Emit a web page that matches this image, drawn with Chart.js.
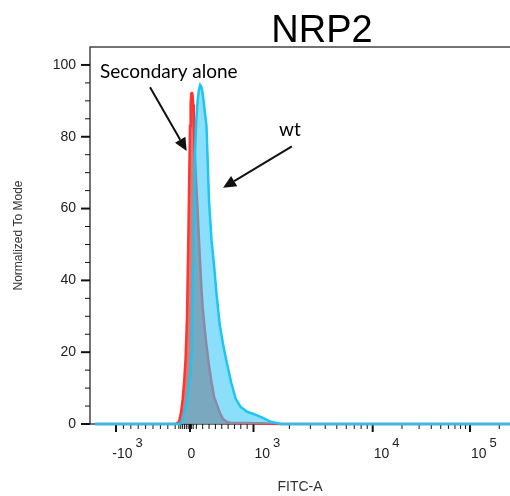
<!DOCTYPE html>
<html>
<head>
<meta charset="utf-8">
<script src="https://cdn.jsdelivr.net/npm/chart.js@4.4.1/dist/chart.umd.min.js"></script>
<style>
  html, body { margin: 0; padding: 0; background: #fff; }
  #wrap { width: 510px; height: 496px; }
</style>
</head>
<body>
<div id="wrap"><canvas id="histo"></canvas></div>
<script>
// FITC-A bins (raw values) shared by both histograms
var binValues = [-1500, -1000, -500, -250, -200, -150, -120, -100, -80, -60, -40, -20, 0, 10, 20, 30, 40, 50, 60, 80, 100, 120, 140, 160, 180, 200, 230, 260, 300, 340, 380, 420, 470, 520, 580, 650, 720, 800, 900, 1000, 1200, 1400, 1700, 2000, 3000, 5000, 10000, 100000, 300000];

// Normalized To Mode
var secondaryAlone = [0, 0, 0, 0, 0, 0.5, 3.4, 6.7, 11.5, 18, 30, 55, 83, 89, 92, 92.5, 91.6, 89, 83, 73.5, 66, 59.5, 51.7, 44.7, 37.7, 32.4, 26.8, 21.8, 16.2, 11.5, 7.5, 5.6, 3.1, 1.4, 0.6, 0.3, 0.3, 0.3, 0.3, 0.2, 0.2, 0.1, 0, 0, 0, 0, 0, 0, 0];
var wtValues = [0, 0, 0, 0, 0, 0, 0.2, 1.1, 2.5, 4.5, 6.7, 9.8, 13.4, 15.6, 19, 24.6, 33, 44, 55, 76, 85, 90, 93, 94.4, 93.9, 92, 87.4, 83, 62, 51, 44, 35.8, 27.4, 22.3, 17, 11.5, 7, 4.7, 3.4, 2.8, 1.7, 0.6, 0, 0, 0, 0, 0, 0, 0];

// axis ticks
var xMajorTicks = [-1000, 0, 1000, 10000, 100000];
var xMajorLabels = [["-10", "3"], ["0", ""], ["10", "3"], ["10", "4"], ["10", "5"]];
var xMinorTicks = [-900, -800, -700, -600, -500, -400, -300, -200, -150, -125, -100, -75, -50, -25, 25, 50, 100, 200, 300, 400, 500, 600, 700, 800, 900,
  2000, 3000, 4000, 5000, 6000, 7000, 8000, 9000, 20000, 30000, 40000, 50000, 60000, 70000, 80000, 90000, 200000];
var yMajorTicks = [0, 20, 40, 60, 80, 100];

// annotation anchors in data units [x raw value, y]
var labelSecondary = [-1360, 98];
var arrowSecondary = [[-540, 93.8], [-45, 76]];
var labelWt = [2023, 82];
var arrowWt = [[2100, 77.3], [520, 65.8]];

// biexponential-like display transform (raw value -> axis units)
function toPos(v) {
  if (v >= 1000) {
    var l = Math.log10(v);
    if (l <= 4) return 63.5 + (l - 3) * 119.2;
    return 182.7 + (l - 4) * 97.3;
  }
  if (v >= 0) return v * 0.0635;
  if (v >= -1000) return v * 0.074;
  return -74 - Math.log10(-v / 1000) * 119.2;
}

function makePoints(ys) {
  var pts = [];
  for (var i = 0; i < binValues.length; i++) {
    pts.push({ x: toPos(binValues[i]), y: ys[i] });
  }
  return pts;
}

var FONT = "'Liberation Sans', Arial, sans-serif";

function drawArrow(ctx, x1, y1, x2, y2) {
  var ang = Math.atan2(y2 - y1, x2 - x1);
  var hl = 13, hw = 6;
  var bx = x2 - hl * Math.cos(ang), by = y2 - hl * Math.sin(ang);
  ctx.beginPath();
  ctx.moveTo(x1, y1);
  ctx.lineTo(bx, by);
  ctx.strokeStyle = "#111";
  ctx.lineWidth = 2;
  ctx.stroke();
  ctx.beginPath();
  ctx.moveTo(x2, y2);
  ctx.lineTo(bx + hw * Math.sin(ang), by - hw * Math.cos(ang));
  ctx.lineTo(bx - hw * Math.sin(ang), by + hw * Math.cos(ang));
  ctx.closePath();
  ctx.fillStyle = "#111";
  ctx.fill();
}

var flowPlugin = {
  id: "flowPlugin",
  beforeDatasetsDraw: function (chart) {
    var ctx = chart.ctx, a = chart.chartArea;
    var xs = chart.scales.x, ys = chart.scales.y;
    ctx.save();
    // frame
    ctx.strokeStyle = "#444";
    ctx.lineWidth = 1.5;
    ctx.beginPath();
    ctx.moveTo(a.right, a.top);
    ctx.lineTo(a.left, a.top);
    ctx.lineTo(a.left, a.bottom);
    ctx.lineTo(a.right, a.bottom);
    ctx.stroke();
    // y ticks
    ctx.strokeStyle = "#111";
    for (var v = 0; v <= 100; v += 5) {
      var py = ys.getPixelForValue(v);
      var major = yMajorTicks.indexOf(v) >= 0;
      ctx.lineWidth = major ? 2 : 1;
      ctx.beginPath();
      ctx.moveTo(a.left, py);
      ctx.lineTo(a.left - (major ? 9 : 5), py);
      ctx.stroke();
    }
    // x ticks
    xMinorTicks.forEach(function (t) {
      var px = xs.getPixelForValue(toPos(t));
      ctx.lineWidth = 1;
      ctx.beginPath();
      ctx.moveTo(px, a.bottom);
      ctx.lineTo(px, a.bottom + 5);
      ctx.stroke();
    });
    xMajorTicks.forEach(function (t, i) {
      var px = xs.getPixelForValue(toPos(t));
      ctx.lineWidth = 2;
      ctx.beginPath();
      ctx.moveTo(px, a.bottom);
      ctx.lineTo(px, a.bottom + 8);
      ctx.stroke();
      // label with superscript
      var base = xMajorLabels[i][0], sup = xMajorLabels[i][1];
      ctx.fillStyle = "#222";
      ctx.textBaseline = "alphabetic";
      ctx.font = "14px " + FONT;
      if (sup === "") {
        ctx.textAlign = "center";
        ctx.fillText(base, px + 1.5, a.bottom + 34);
      } else {
        var startX = px;
        if (base.charAt(0) === "-") {
          ctx.textAlign = "right";
          ctx.fillText("-", px + 1, a.bottom + 34);
          base = base.substring(1);
        }
        ctx.textAlign = "left";
        ctx.fillText(base, startX + 1, a.bottom + 34);
        var w = ctx.measureText(base).width;
        ctx.font = "13px " + FONT;
        ctx.fillText(sup, startX + w + 4, a.bottom + 23);
      }
    });
    ctx.restore();
  },
  afterDraw: function (chart) {
    var ctx = chart.ctx, a = chart.chartArea;
    var xs = chart.scales.x, ys = chart.scales.y;
    function P(p) { return [xs.getPixelForValue(toPos(p[0])), ys.getPixelForValue(p[1])]; }
    ctx.save();
    // title
    ctx.fillStyle = "#000";
    ctx.font = "38px " + FONT;
    ctx.textAlign = "center";
    ctx.textBaseline = "alphabetic";
    ctx.fillText("NRP2", 322, 42);
    // annotations
    ctx.font = "19px Lato, 'Liberation Sans', sans-serif";
    ctx.textBaseline = "middle";
    ctx.textAlign = "left";
    var s = P(labelSecondary);
    ctx.fillText("Secondary alone", s[0], s[1]);
    var w = P(labelWt);
    ctx.textAlign = "center";
    ctx.fillText("wt", w[0], w[1]);
    var a1 = P(arrowSecondary[0]), a2 = P(arrowSecondary[1]);
    drawArrow(ctx, a1[0], a1[1], a2[0], a2[1]);
    var b1 = P(arrowWt[0]), b2 = P(arrowWt[1]);
    drawArrow(ctx, b1[0], b1[1], b2[0], b2[1]);
    ctx.restore();
  }
};

var ctx_chart = document.getElementById("histo").getContext("2d");
var chart = new Chart(ctx_chart, {
  type: "line",
  data: {
    datasets: [
      {
        label: "wt",
        data: makePoints(wtValues),
        borderColor: "#1cc6f4",
        backgroundColor: "rgba(55,200,246,0.58)",
        borderWidth: 2.5,
        fill: "origin",
        pointRadius: 0,
        tension: 0,
        clip: false,
        order: 0
      },
      {
        label: "Secondary alone",
        data: makePoints(secondaryAlone),
        borderColor: "#ff3434",
        backgroundColor: "rgba(200,80,70,0.75)",
        borderWidth: 2.5,
        fill: "origin",
        pointRadius: 0,
        tension: 0,
        clip: false,
        order: 1
      }
    ]
  },
  options: {
    responsive: true,
    maintainAspectRatio: false,
    animation: false,
    layout: { padding: { top: 47, right: 0, left: 0, bottom: 0 } },
    plugins: {
      legend: { display: false },
      tooltip: { enabled: false }
    },
    scales: {
      x: {
        type: "linear",
        min: -100,
        max: 320,
        grid: { display: false, drawTicks: false },
        border: { display: false },
        ticks: { display: false },
        title: {
          display: true,
          text: "FITC-A",
          color: "#333",
          font: { family: FONT, size: 14 },
          padding: { top: 0, bottom: 0 }
        },
        afterFit: function (scale) { scale.height = 72; }
      },
      y: {
        min: 0,
        max: 105,
        grid: { display: false, drawTicks: false },
        border: { display: false },
        ticks: {
          stepSize: 5,
          padding: 14,
          color: "#222",
          font: { family: FONT, size: 14 },
          callback: function (v) { return yMajorTicks.indexOf(v) >= 0 ? v : ""; }
        },
        title: {
          display: true,
          text: "Normalized To Mode",
          color: "#333",
          font: { family: FONT, size: 12 },
          padding: { top: 11, bottom: 0 }
        },
        afterFit: function (scale) { scale.width = 90; }
      }
    }
  },
  plugins: [flowPlugin]
});
</script>
</body>
</html>
